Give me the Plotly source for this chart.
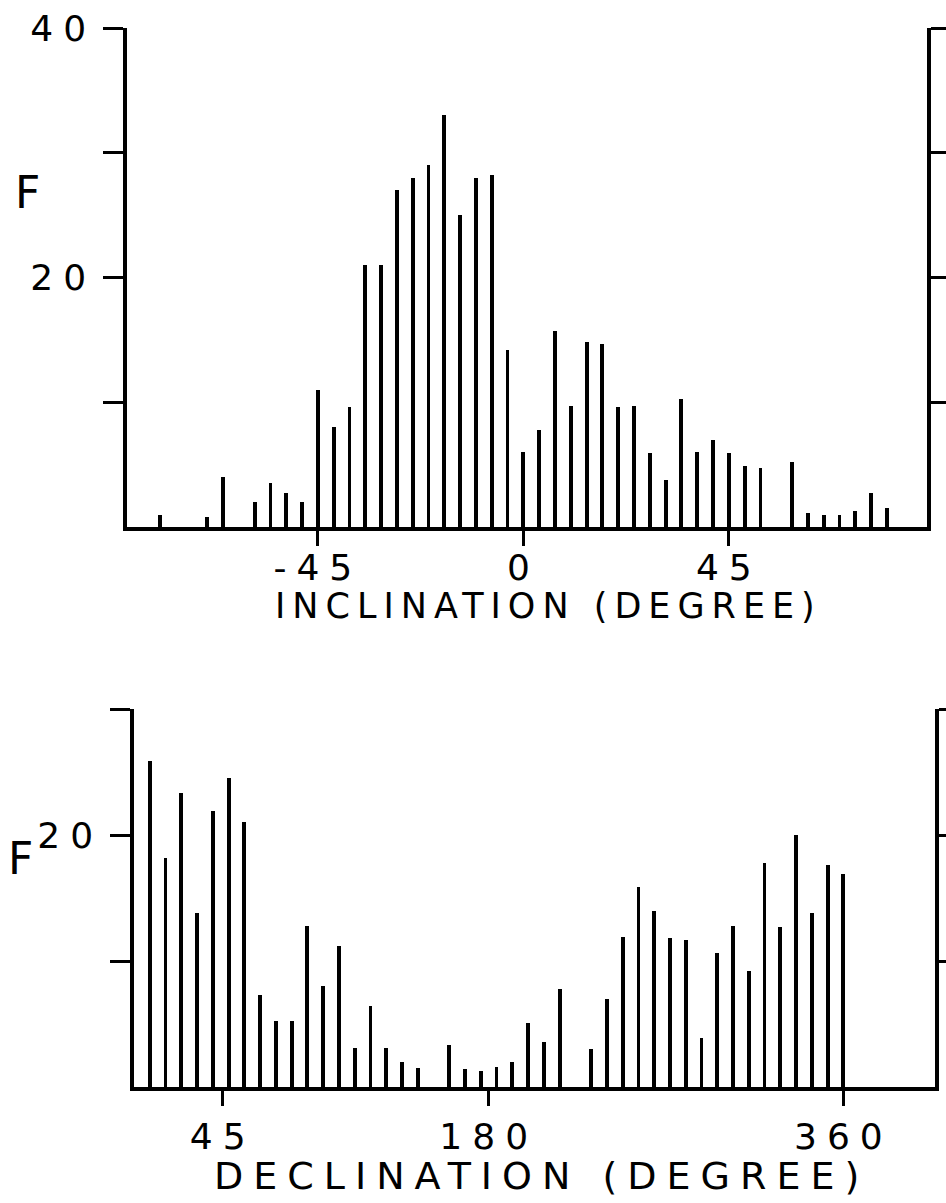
import plotly.graph_objects as go

W, H = 946, 1203

# ---------------- data ----------------
# Inclination histogram: bins spaced 45/13 degrees, index -23 .. 23
incl_step = 45.0 / 13.0
incl_index = list(range(-23, 24))
incl_counts = [1, 0, 0, 0.8, 4, 0, 2, 3.5, 2.7, 2,
               11, 8, 9.6, 21, 21, 27, 28, 29, 33, 25,
               28, 28.2, 14.2,
               6, 7.8, 15.7, 9.7, 14.8, 14.7, 9.6, 9.7, 5.9, 3.8,
               10.3, 6, 7, 5.9, 4.9, 4.7, 0, 5.2, 1.1, 1,
               1, 1.3, 2.7, 1.5]
incl_tickvals = [-45, 0, 45]
incl_ticktext = ["-45", "0", "45"]
incl_ytickvals = [10, 20, 30, 40]
incl_yticktext = ["", "20", "", "40"]

# Declination histogram: 8-degree bins, index 1 .. 45
decl_step = 8
decl_index = list(range(1, 46))
decl_counts = [25.9, 18.2, 23.3, 13.8, 21.9, 24.5, 21.0, 7.3, 5.2, 5.2,
               12.8, 8.0, 11.2, 3.1, 6.4, 3.1, 2.0, 1.5, 0, 3.3,
               1.4, 1.3, 1.6, 2.0, 5.1, 3.6, 7.8, 0, 3.0, 7.0,
               11.9, 15.9, 14.0, 11.8, 11.7, 3.9, 10.6, 12.8, 9.2, 17.8,
               12.7, 20.0, 13.8, 17.6, 16.9]
decl_tickvals = [45, 180, 360]
decl_ticktext = ["45", "180", "360"]
decl_ytickvals = [10, 20, 30]
decl_yticktext = ["", "20", ""]

incl_x = [i * incl_step for i in incl_index]
decl_x = [k * decl_step for k in decl_index]

# ---------------- styling ----------------
FONT = "DejaVu Sans"
INK = "black"


def spaced(s, sp):
    return '<span style="letter-spacing:%dpx">%s</span>' % (sp, s) if s else s


def dom_x(a, b):
    return [a / W, b / W]


def dom_y(top, bottom):
    return [1 - bottom / H, 1 - top / H]


fig = go.Figure()
fig.add_trace(go.Bar(x=incl_x, y=incl_counts, width=0.85,
                     marker=dict(color=INK, line=dict(width=0)),
                     xaxis="x", yaxis="y"))
fig.add_trace(go.Bar(x=decl_x, y=decl_counts, width=1.95,
                     marker=dict(color=INK, line=dict(width=0)),
                     xaxis="x2", yaxis="y2"))

axis_common = dict(showline=True, linecolor=INK, linewidth=3.5,
                   ticks="outside", tickcolor=INK, tickwidth=3,
                   showgrid=False, zeroline=False, automargin=False,
                   tickfont=dict(family=FONT, size=36, color=INK))

fig.update_layout(
    width=W, height=H, autosize=False,
    margin=dict(l=0, r=0, t=0, b=0, autoexpand=False),
    paper_bgcolor="white", plot_bgcolor="white",
    showlegend=False, bargap=0,
    xaxis=dict(axis_common, domain=dom_x(127, 927), range=[-86.8, 88.4],
               anchor="y", tickvals=incl_tickvals,
               ticktext=[spaced(t, 10) for t in incl_ticktext], ticklen=15,
               ticklabelstandoff=-9),
    yaxis=dict(axis_common, domain=dom_y(28, 527), range=[0, 40],
               anchor="x", mirror="ticks", tickvals=incl_ytickvals,
               ticktext=[spaced(t, 10) for t in incl_yticktext], ticklen=20),
    xaxis2=dict(axis_common, domain=dom_x(134, 935), range=[0, 406.5],
                anchor="y2", tickvals=decl_tickvals,
                ticktext=[spaced(t, 10) for t in decl_ticktext], ticklen=15),
    yaxis2=dict(axis_common, domain=dom_y(709, 1087), range=[0, 30],
                anchor="x2", mirror="ticks", tickvals=decl_ytickvals,
                ticktext=[spaced(t, 10) for t in decl_yticktext], ticklen=20),
)

fig.add_annotation(x=548 / W, y=1 - 606 / H, xref="paper", yref="paper",
                   text=spaced("INCLINATION (DEGREE)", 7), showarrow=False,
                   xanchor="center", yanchor="middle",
                   font=dict(family=FONT, size=35, color=INK))
fig.add_annotation(x=541 / W, y=1 - 1176 / H, xref="paper", yref="paper",
                   text=spaced("DECLINATION (DEGREE)", 10), showarrow=False,
                   xanchor="center", yanchor="middle",
                   font=dict(family=FONT, size=38, color=INK))
fig.add_annotation(x=27 / W, y=1 - 192 / H, xref="paper", yref="paper",
                   text="F", showarrow=False, xanchor="center", yanchor="middle",
                   font=dict(family=FONT, size=44, color=INK))
fig.add_annotation(x=20 / W, y=1 - 858 / H, xref="paper", yref="paper",
                   text="F", showarrow=False, xanchor="center", yanchor="middle",
                   font=dict(family=FONT, size=44, color=INK))

fig.write_html("out.html")
